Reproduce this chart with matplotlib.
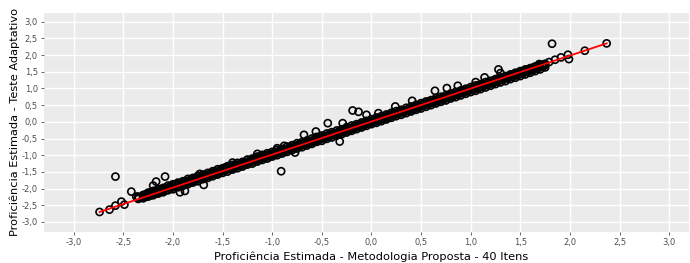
import numpy as np
import matplotlib
matplotlib.use('Agg')
import matplotlib.pyplot as plt

# ── Données ──
# bande dense (rangées autour de la diagonale)
band_x = [-2.35, -2.30, -2.25, -2.20, -2.15, -2.10, -2.05, -2.00, -1.95, -1.90,
          -1.85, -1.80, -1.75, -1.70, -1.65, -1.60, -1.55, -1.50, -1.45, -1.40,
          -1.35, -1.30, -1.25, -1.20, -1.15, -1.10, -1.05, -1.00, -0.95, -0.90,
          -0.85, -0.80, -0.75, -0.70, -0.65, -0.60, -0.55, -0.50, -0.45, -0.40,
          -0.35, -0.30, -0.25, -0.20, -0.15, -0.10, -0.05, 0.00, 0.05, 0.10,
          0.15, 0.20, 0.25, 0.30, 0.35, 0.40, 0.45, 0.50, 0.55, 0.60,
          0.65, 0.70, 0.75, 0.80, 0.85, 0.90, 0.95, 1.00, 1.05, 1.10,
          1.15, 1.20, 1.25, 1.30, 1.35, 1.40, 1.45, 1.50, 1.55, 1.60,
          1.65, 1.70, 1.75]
band_mid = [-2.27, -2.24, -2.18, -2.14, -2.08, -2.05, -1.98, -1.95, -1.89, -1.85,
            -1.79, -1.75, -1.70, -1.65, -1.61, -1.55, -1.50, -1.46, -1.41, -1.36,
            -1.31, -1.27, -1.21, -1.17, -1.11, -1.07, -1.02, -0.97, -0.92, -0.88,
            -0.82, -0.78, -0.72, -0.68, -0.64, -0.58, -0.53, -0.49, -0.43, -0.39,
            -0.34, -0.30, -0.24, -0.19, -0.15, -0.09, -0.05, 0.01, 0.05, 0.10,
            0.14, 0.20, 0.24, 0.29, 0.34, 0.39, 0.44, 0.48, 0.54, 0.58,
            0.63, 0.68, 0.73, 0.77, 0.83, 0.87, 0.92, 0.97, 1.02, 1.06,
            1.12, 1.16, 1.21, 1.26, 1.31, 1.36, 1.40, 1.46, 1.50, 1.55,
            1.60, 1.65, 1.70]
band_hi = [-2.24, -2.19, -2.12, -2.07, -2.01, -1.98, -1.91, -1.87, -1.82, -1.78,
           -1.71, -1.68, -1.62, -1.58, -1.53, -1.48, -1.42, -1.39, -1.33, -1.29,
           -1.23, -1.20, -1.13, -1.10, -1.04, -0.99, -0.94, -0.90, -0.84, -0.81,
           -0.74, -0.70, -0.64, -0.61, -0.56, -0.50, -0.45, -0.41, -0.35, -0.31,
           -0.26, -0.22, -0.16, -0.11, -0.07, -0.02, 0.03, 0.08, 0.13, 0.17,
           0.22, 0.27, 0.32, 0.36, 0.42, 0.46, 0.51, 0.56, 0.61, 0.65,
           0.71, 0.75, 0.80, 0.85, 0.90, 0.94, 0.99, 1.04, 1.09, 1.13,
           1.19, 1.23, 1.28, 1.33, 1.37, 1.42, 1.47, 1.52, 1.57, 1.61,
           1.66, 1.71, 1.74]
band_lo = [-2.31, -2.29, -2.24, -2.20, -2.15, -2.11, -2.05, -2.02, -1.96, -1.92,
           -1.87, -1.82, -1.78, -1.72, -1.68, -1.63, -1.58, -1.53, -1.49, -1.43,
           -1.39, -1.34, -1.28, -1.25, -1.19, -1.14, -1.10, -1.04, -1.00, -0.95,
           -0.90, -0.85, -0.80, -0.76, -0.71, -0.66, -0.60, -0.57, -0.51, -0.47,
           -0.41, -0.37, -0.32, -0.27, -0.22, -0.17, -0.12, -0.07, -0.03, 0.02,
           0.07, 0.12, 0.17, 0.21, 0.26, 0.31, 0.36, 0.40, 0.45, 0.50,
           0.55, 0.60, 0.64, 0.70, 0.74, 0.79, 0.84, 0.89, 0.93, 0.98,
           1.03, 1.08, 1.13, 1.18, 1.22, 1.28, 1.32, 1.37, 1.42, 1.47,
           1.52, 1.57, 1.63]

# rangées intercalées
band2_x = [-2.275, -2.225, -2.175, -2.125, -2.075, -2.025, -1.975, -1.925, -1.875,
           -1.825, -1.775, -1.725, -1.675, -1.625, -1.575, -1.525, -1.475, -1.425,
           -1.375, -1.325, -1.275, -1.225, -1.175, -1.125, -1.075, -1.025, -0.975,
           -0.925, -0.875, -0.825, -0.775, -0.725, -0.675, -0.625, -0.575, -0.525,
           -0.475, -0.425, -0.375, -0.325, -0.275, -0.225, -0.175, -0.125, -0.075,
           -0.025, 0.025, 0.075, 0.125, 0.175, 0.225, 0.275, 0.325, 0.375,
           0.425, 0.475, 0.525, 0.575, 0.625, 0.675, 0.725, 0.775, 0.825,
           0.875, 0.925, 0.975, 1.025, 1.075, 1.125, 1.175, 1.225, 1.275,
           1.325, 1.375, 1.425, 1.475, 1.525, 1.575, 1.625, 1.675, 1.725]
band2_up = [-2.17, -2.11, -2.07, -2.02, -1.97, -1.93, -1.87, -1.83, -1.78,
            -1.73, -1.68, -1.64, -1.59, -1.54, -1.49, -1.44, -1.39, -1.35,
            -1.29, -1.25, -1.20, -1.15, -1.10, -1.05, -1.00, -0.96, -0.91,
            -0.86, -0.81, -0.76, -0.71, -0.66, -0.62, -0.57, -0.52, -0.47,
            -0.42, -0.37, -0.33, -0.28, -0.23, -0.18, -0.13, -0.08, -0.03,
            0.02, 0.06, 0.11, 0.16, 0.21, 0.26, 0.31, 0.35, 0.40,
            0.45, 0.50, 0.55, 0.60, 0.65, 0.69, 0.74, 0.79, 0.84,
            0.89, 0.94, 0.99, 1.03, 1.08, 1.13, 1.18, 1.23, 1.28,
            1.32, 1.37, 1.42, 1.47, 1.52, 1.57, 1.62, 1.67, 1.71]
band2_dn = [-2.24, -2.20, -2.15, -2.10, -2.06, -2.00, -1.96, -1.91, -1.86,
            -1.81, -1.77, -1.71, -1.67, -1.62, -1.57, -1.52, -1.47, -1.42,
            -1.38, -1.32, -1.28, -1.23, -1.18, -1.13, -1.08, -1.04, -0.99,
            -0.94, -0.89, -0.84, -0.79, -0.74, -0.70, -0.65, -0.60, -0.55,
            -0.50, -0.45, -0.40, -0.36, -0.31, -0.26, -0.21, -0.16, -0.11,
            -0.06, -0.02, 0.03, 0.08, 0.13, 0.18, 0.23, 0.28, 0.32,
            0.37, 0.42, 0.47, 0.52, 0.57, 0.61, 0.66, 0.71, 0.76,
            0.81, 0.86, 0.91, 0.95, 1.00, 1.05, 1.10, 1.15, 1.20,
            1.25, 1.30, 1.34, 1.39, 1.44, 1.49, 1.54, 1.59, 1.64]

# points isolés
out_x = [-2.74, -2.64, -2.58, -2.58, -2.52, -2.49, -2.42, -2.37, -2.30, -2.26,
         -2.20, -2.17, -2.08, -2.08, -1.93, -1.88, -1.73, -1.69, -1.47, -1.40,
         -1.15, -0.91, -0.95, -0.88, -0.77, -0.68, -0.56, -0.44, -0.32, -0.29,
         -0.19, -0.13, -0.05, 0.07, 0.24, 0.41, 0.64, 0.76, 0.87, 1.05,
         1.14, 1.28, 1.30, 1.69, 1.79, 1.85, 1.91, 1.98, 1.99, 2.15,
         2.37, 1.82]
out_y = [-2.70, -2.63, -2.51, -1.64, -2.39, -2.48, -2.09, -2.24, -2.21, -2.16,
         -1.91, -1.79, -1.64, -1.99, -2.11, -2.07, -1.56, -1.89, -1.36, -1.22,
         -0.96, -1.48, -0.79, -0.72, -0.92, -0.39, -0.29, -0.04, -0.59, -0.04,
         0.34, 0.30, 0.21, 0.26, 0.46, 0.63, 0.93, 1.01, 1.08, 1.19,
         1.33, 1.57, 1.46, 1.73, 1.79, 1.86, 1.93, 2.01, 1.88, 2.13,
         2.35, 2.34]

# droite rouge
line_x = [-2.74, 2.37]
line_y = [-2.70, 2.35]

ticks = [-3.0, -2.5, -2.0, -1.5, -1.0, -0.5, 0.0, 0.5, 1.0, 1.5, 2.0, 2.5, 3.0]
tick_labels = [f"{t:.1f}".replace('.', ',') for t in ticks]

# ── Figure ──
fig = plt.figure(figsize=(6.9, 2.63), dpi=100)
ax = fig.add_axes([44/690, 1 - 232/263, 645/690, 219/263])
ax.set_facecolor('#EBEBEB')
for s in ax.spines.values():
    s.set_visible(False)
ax.grid(True, color='white', linewidth=1.0)
ax.set_axisbelow(True)

all_x = band_x * 3 + band2_x * 2 + out_x
all_y = band_mid + band_hi + band_lo + band2_up + band2_dn + out_y
ax.scatter(all_x, all_y, s=26, facecolors='none', edgecolors='black',
           linewidths=1.2, zorder=2)
ax.plot(line_x, line_y, color='red', linewidth=1.3, zorder=3)

ax.set_xlim(-3.3, 3.2)
ax.set_ylim(-3.3, 3.26)
ax.set_xticks(ticks)
ax.set_xticklabels(tick_labels)
ax.set_yticks(ticks)
ax.set_yticklabels(tick_labels)
ax.tick_params(axis='both', labelsize=6, colors='#4D4D4D', length=2.5,
               width=0.6, pad=2)

fig.text(371/690, 1 - 257/263, "Proficiência Estimada - Metodologia Proposta - 40 Itens",
         ha='center', va='center', fontsize=8.2, color='black')
fig.text(15/690, 1 - 122/263, "Proficiência Estimada - Teste Adaptativo",
         ha='center', va='center', rotation=90, fontsize=8.2, color='black')

plt.savefig('out.png', dpi=100)
